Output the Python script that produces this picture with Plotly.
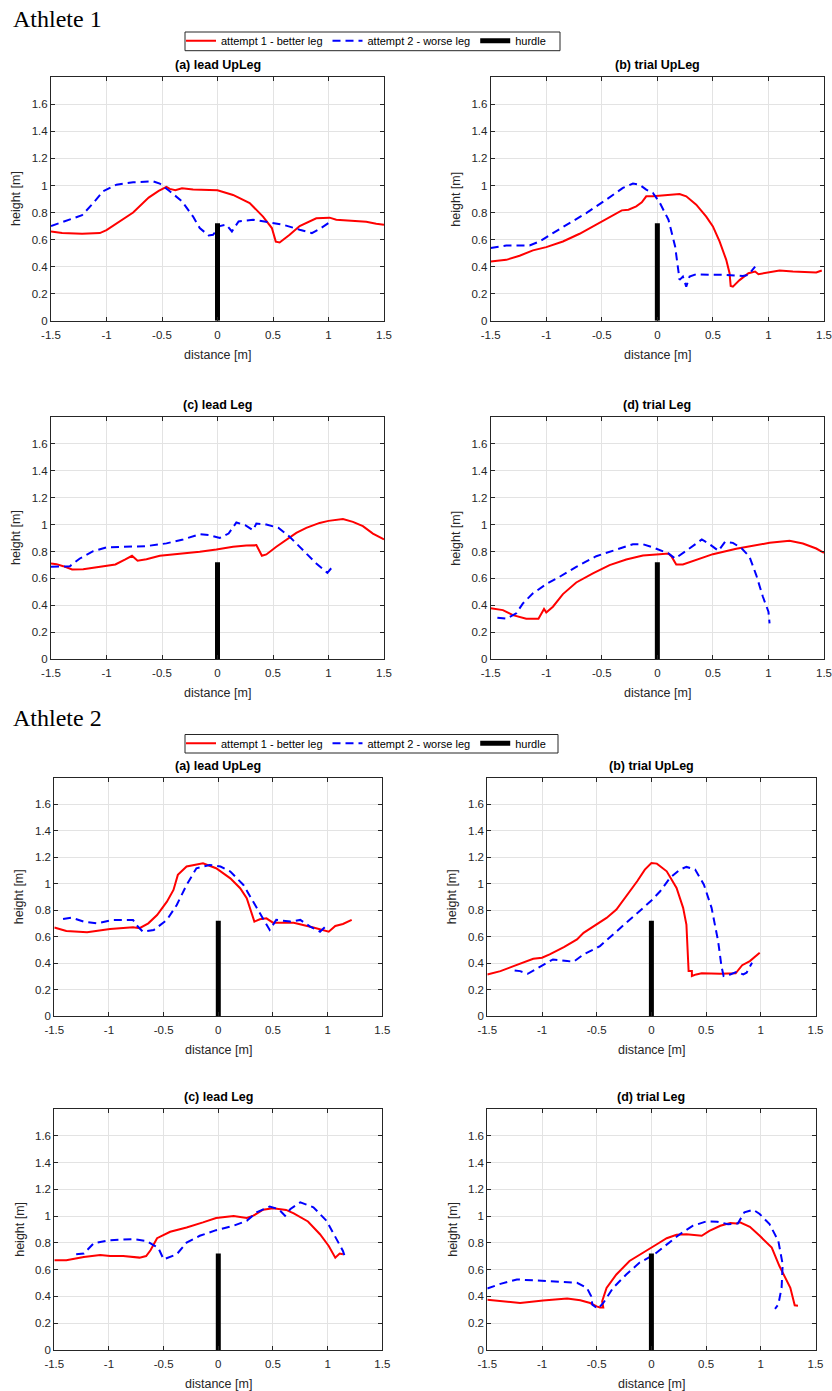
import plotly.graph_objects as go

# ---------------- data: Athlete 1 ----------------
a1_lead_upleg_att1_x = [-1.5, -1.40, -1.22, -1.06, -1.0, -0.91, -0.76, -0.62, -0.53, -0.46, -0.43, -0.38, -0.32, -0.22, 0.0, 0.14, 0.29, 0.41, 0.49, 0.525, 0.56, 0.65, 0.74, 0.89, 1.01, 1.07, 1.19, 1.34, 1.43, 1.5]
a1_lead_upleg_att1_y = [0.66, 0.648, 0.643, 0.648, 0.67, 0.72, 0.80, 0.91, 0.96, 0.99, 0.975, 0.965, 0.98, 0.97, 0.965, 0.93, 0.87, 0.77, 0.685, 0.585, 0.578, 0.635, 0.70, 0.757, 0.762, 0.747, 0.742, 0.732, 0.717, 0.71]
a1_lead_upleg_att2_x = [-1.5, -1.36, -1.22, -1.12, -1.03, -0.91, -0.76, -0.58, -0.52, -0.43, -0.32, -0.22, -0.16, -0.08, -0.04, 0.02, 0.08, 0.13, 0.19, 0.32, 0.44, 0.59, 0.74, 0.85, 0.92, 1.0]
a1_lead_upleg_att2_y = [0.70, 0.74, 0.78, 0.87, 0.957, 1.006, 1.024, 1.03, 1.014, 0.957, 0.883, 0.77, 0.685, 0.63, 0.635, 0.70, 0.71, 0.66, 0.734, 0.747, 0.73, 0.71, 0.673, 0.648, 0.678, 0.722]

a1_trial_upleg_att1_x = [-1.5, -1.36, -1.24, -1.12, -1.0, -0.85, -0.70, -0.52, -0.40, -0.32, -0.26, -0.19, -0.14, -0.10, -0.04, 0.02, 0.14, 0.20, 0.26, 0.35, 0.44, 0.50, 0.56, 0.62, 0.65, 0.66, 0.68, 0.74, 0.82, 0.88, 0.91, 0.98, 1.10, 1.22, 1.37, 1.43, 1.48]
a1_trial_upleg_att1_y = [0.438, 0.45, 0.48, 0.52, 0.544, 0.586, 0.643, 0.722, 0.776, 0.816, 0.821, 0.846, 0.875, 0.92, 0.92, 0.925, 0.932, 0.937, 0.92, 0.858, 0.77, 0.697, 0.586, 0.45, 0.351, 0.257, 0.252, 0.30, 0.351, 0.364, 0.344, 0.356, 0.371, 0.364, 0.359, 0.356, 0.371]
a1_trial_upleg_att2_x = [-1.5, -1.36, -1.15, -1.06, -0.94, -0.79, -0.64, -0.46, -0.31, -0.22, -0.16, -0.10, -0.04, 0.02, 0.10, 0.16, 0.20, 0.23, 0.26, 0.29, 0.35, 0.47, 0.62, 0.77, 0.82, 0.88]
a1_trial_upleg_att2_y = [0.537, 0.556, 0.556, 0.586, 0.648, 0.722, 0.796, 0.895, 0.982, 1.014, 1.006, 0.969, 0.945, 0.875, 0.747, 0.549, 0.302, 0.326, 0.252, 0.326, 0.344, 0.339, 0.339, 0.331, 0.339, 0.40]

a1_lead_leg_att1_x = [-1.5, -1.45, -1.39, -1.31, -1.21, -1.12, -1.03, -0.92, -0.83, -0.77, -0.72, -0.64, -0.52, -0.31, -0.16, -0.01, 0.14, 0.26, 0.35, 0.40, 0.44, 0.53, 0.62, 0.71, 0.80, 0.92, 1.0, 1.13, 1.22, 1.31, 1.40, 1.5]
a1_lead_leg_att1_y = [0.711, 0.706, 0.691, 0.667, 0.669, 0.681, 0.691, 0.704, 0.741, 0.768, 0.731, 0.743, 0.768, 0.785, 0.798, 0.815, 0.835, 0.844, 0.847, 0.768, 0.778, 0.835, 0.889, 0.938, 0.975, 1.012, 1.027, 1.04, 1.02, 0.988, 0.933, 0.889]
a1_lead_leg_att2_x = [-1.5, -1.42, -1.33, -1.24, -1.12, -1.0, -0.82, -0.64, -0.46, -0.31, -0.16, -0.07, 0.02, 0.10, 0.17, 0.25, 0.32, 0.35, 0.44, 0.55, 0.65, 0.77, 0.89, 0.99, 1.04]
a1_lead_leg_att2_y = [0.686, 0.686, 0.691, 0.748, 0.802, 0.83, 0.835, 0.84, 0.86, 0.889, 0.928, 0.921, 0.90, 0.933, 1.015, 0.995, 0.958, 1.007, 1.0, 0.975, 0.909, 0.81, 0.711, 0.642, 0.691]

a1_trial_leg_att1_x = [-1.5, -1.39, -1.30, -1.18, -1.07, -1.04, -1.02, -1.0, -0.94, -0.85, -0.73, -0.58, -0.43, -0.28, -0.13, 0.02, 0.10, 0.13, 0.17, 0.23, 0.35, 0.50, 0.71, 0.86, 1.01, 1.19, 1.31, 1.43, 1.5]
a1_trial_leg_att1_y = [0.378, 0.365, 0.328, 0.301, 0.301, 0.346, 0.373, 0.348, 0.39, 0.484, 0.57, 0.637, 0.699, 0.741, 0.77, 0.78, 0.785, 0.76, 0.704, 0.704, 0.736, 0.78, 0.82, 0.842, 0.864, 0.879, 0.859, 0.822, 0.79]
a1_trial_leg_att2_x = [-1.44, -1.36, -1.27, -1.21, -1.12, -1.0, -0.88, -0.73, -0.55, -0.37, -0.22, -0.13, -0.04, 0.10, 0.16, 0.26, 0.40, 0.47, 0.55, 0.61, 0.68, 0.76, 0.83, 0.89, 0.95, 1.0, 1.01]
a1_trial_leg_att2_y = [0.309, 0.301, 0.341, 0.415, 0.489, 0.558, 0.612, 0.686, 0.765, 0.815, 0.854, 0.854, 0.83, 0.785, 0.748, 0.805, 0.889, 0.854, 0.805, 0.872, 0.864, 0.822, 0.76, 0.625, 0.464, 0.353, 0.267]

# ---------------- data: Athlete 2 ----------------
a2_lead_upleg_att1_x = [-1.5, -1.39, -1.20, -0.99, -0.78, -0.72, -0.64, -0.56, -0.47, -0.41, -0.37, -0.29, -0.14, -0.02, 0.11, 0.20, 0.26, 0.33, 0.38, 0.44, 0.50, 0.69, 0.87, 1.01, 1.07, 1.14, 1.22]
a2_lead_upleg_att1_y = [0.668, 0.642, 0.632, 0.658, 0.67, 0.663, 0.70, 0.763, 0.864, 0.952, 1.066, 1.129, 1.154, 1.116, 1.04, 0.965, 0.889, 0.713, 0.731, 0.738, 0.705, 0.705, 0.668, 0.637, 0.68, 0.695, 0.726]
a2_lead_upleg_att2_x = [-1.42, -1.34, -1.23, -1.11, -0.96, -0.78, -0.75, -0.69, -0.59, -0.47, -0.38, -0.29, -0.20, -0.08, 0.02, 0.11, 0.23, 0.34, 0.41, 0.47, 0.53, 0.66, 0.75, 0.84, 0.93, 0.98]
a2_lead_upleg_att2_y = [0.733, 0.743, 0.713, 0.70, 0.726, 0.726, 0.688, 0.637, 0.65, 0.726, 0.839, 0.99, 1.116, 1.141, 1.129, 1.091, 0.99, 0.839, 0.738, 0.65, 0.726, 0.713, 0.726, 0.675, 0.637, 0.675]

a2_trial_upleg_att1_x = [-1.5, -1.38, -1.26, -1.17, -1.08, -1.0, -0.93, -0.80, -0.68, -0.62, -0.50, -0.41, -0.32, -0.23, -0.13, -0.06, 0.0, 0.05, 0.14, 0.23, 0.29, 0.32, 0.335, 0.34, 0.37, 0.37, 0.41, 0.46, 0.63, 0.77, 0.83, 0.90, 0.99]
a2_trial_upleg_att1_y = [0.314, 0.339, 0.377, 0.402, 0.432, 0.44, 0.465, 0.52, 0.578, 0.628, 0.691, 0.741, 0.804, 0.905, 1.018, 1.106, 1.156, 1.151, 1.093, 0.967, 0.817, 0.691, 0.49, 0.339, 0.339, 0.302, 0.314, 0.322, 0.319, 0.322, 0.384, 0.415, 0.477]
a2_trial_upleg_att2_x = [-1.25, -1.20, -1.13, -1.03, -0.90, -0.77, -0.71, -0.62, -0.47, -0.35, -0.23, -0.10, 0.0, 0.08, 0.17, 0.26, 0.32, 0.40, 0.48, 0.55, 0.61, 0.64, 0.66, 0.72, 0.78, 0.84, 0.87, 0.92]
a2_trial_upleg_att2_y = [0.344, 0.339, 0.319, 0.364, 0.427, 0.415, 0.41, 0.465, 0.528, 0.616, 0.704, 0.797, 0.872, 0.942, 1.043, 1.106, 1.126, 1.106, 0.992, 0.817, 0.565, 0.377, 0.302, 0.314, 0.334, 0.314, 0.327, 0.402]

a2_lead_leg_att1_x = [-1.5, -1.39, -1.23, -1.08, -0.99, -0.87, -0.72, -0.66, -0.62, -0.56, -0.44, -0.29, -0.14, -0.02, 0.14, 0.26, 0.32, 0.41, 0.50, 0.62, 0.69, 0.82, 0.93, 1.01, 1.07, 1.11, 1.14]
a2_lead_leg_att1_y = [0.67, 0.67, 0.695, 0.71, 0.702, 0.702, 0.69, 0.702, 0.745, 0.835, 0.883, 0.915, 0.953, 0.986, 1.0, 0.986, 1.003, 1.048, 1.058, 1.046, 1.02, 0.96, 0.865, 0.777, 0.69, 0.72, 0.715]
a2_lead_leg_att2_x = [-1.30, -1.23, -1.14, -0.99, -0.78, -0.66, -0.59, -0.55, -0.50, -0.38, -0.29, -0.17, -0.02, 0.14, 0.26, 0.35, 0.47, 0.55, 0.61, 0.66, 0.75, 0.87, 0.99, 1.08, 1.14, 1.16]
a2_lead_leg_att2_y = [0.715, 0.72, 0.797, 0.82, 0.828, 0.815, 0.782, 0.765, 0.677, 0.715, 0.802, 0.853, 0.895, 0.928, 0.965, 1.028, 1.071, 1.053, 1.003, 1.053, 1.103, 1.066, 0.965, 0.835, 0.74, 0.69]

a2_trial_leg_att1_x = [-1.5, -1.38, -1.20, -0.99, -0.77, -0.65, -0.56, -0.50, -0.47, -0.44, -0.45, -0.41, -0.32, -0.20, -0.07, 0.05, 0.14, 0.23, 0.32, 0.41, 0.46, 0.53, 0.63, 0.72, 0.78, 0.81, 0.90, 0.99, 1.10, 1.17, 1.27, 1.31, 1.34]
a2_trial_leg_att1_y = [0.376, 0.364, 0.351, 0.369, 0.384, 0.371, 0.351, 0.326, 0.318, 0.318, 0.364, 0.464, 0.564, 0.665, 0.727, 0.79, 0.835, 0.86, 0.865, 0.86, 0.853, 0.89, 0.928, 0.948, 0.945, 0.953, 0.92, 0.853, 0.765, 0.627, 0.464, 0.334, 0.331]
a2_trial_leg_att2_x = [-1.5, -1.38, -1.23, -1.02, -0.84, -0.68, -0.59, -0.55, -0.54, -0.49, -0.44, -0.35, -0.23, -0.11, 0.02, 0.14, 0.26, 0.38, 0.50, 0.60, 0.70, 0.79, 0.85, 0.93, 0.99, 1.08, 1.16, 1.20, 1.19, 1.16, 1.13]
a2_trial_leg_att2_y = [0.459, 0.494, 0.527, 0.519, 0.507, 0.502, 0.464, 0.401, 0.339, 0.308, 0.351, 0.464, 0.564, 0.652, 0.71, 0.79, 0.865, 0.928, 0.96, 0.958, 0.94, 0.945, 1.028, 1.048, 1.016, 0.94, 0.815, 0.64, 0.464, 0.339, 0.308]

# hurdle position and height
hurdle_x = 0.0
hurdle_height = 0.72

# axis ticks
x_ticks = [-1.5, -1.0, -0.5, 0.0, 0.5, 1.0, 1.5]
x_tick_labels = ["-1.5", "-1", "-0.5", "0", "0.5", "1", "1.5"]
y_ticks = [0.0, 0.2, 0.4, 0.6, 0.8, 1.0, 1.2, 1.4, 1.6]
y_tick_labels = ["0", "0.2", "0.4", "0.6", "0.8", "1", "1.2", "1.4", "1.6"]

panel_titles = ["(a) lead UpLeg", "(b) trial UpLeg", "(c) lead Leg", "(d) trial Leg"]
series_names = ["attempt 1 - better leg", "attempt 2 - worse leg", "hurdle"]
athlete_labels = ["Athlete 1", "Athlete 2"]

athlete_panels = [
    [
        (a1_lead_upleg_att1_x, a1_lead_upleg_att1_y, a1_lead_upleg_att2_x, a1_lead_upleg_att2_y),
        (a1_trial_upleg_att1_x, a1_trial_upleg_att1_y, a1_trial_upleg_att2_x, a1_trial_upleg_att2_y),
        (a1_lead_leg_att1_x, a1_lead_leg_att1_y, a1_lead_leg_att2_x, a1_lead_leg_att2_y),
        (a1_trial_leg_att1_x, a1_trial_leg_att1_y, a1_trial_leg_att2_x, a1_trial_leg_att2_y),
    ],
    [
        (a2_lead_upleg_att1_x, a2_lead_upleg_att1_y, a2_lead_upleg_att2_x, a2_lead_upleg_att2_y),
        (a2_trial_upleg_att1_x, a2_trial_upleg_att1_y, a2_trial_upleg_att2_x, a2_trial_upleg_att2_y),
        (a2_lead_leg_att1_x, a2_lead_leg_att1_y, a2_lead_leg_att2_x, a2_lead_leg_att2_y),
        (a2_trial_leg_att1_x, a2_trial_leg_att1_y, a2_trial_leg_att2_x, a2_trial_leg_att2_y),
    ],
]

# ---------------- page geometry (pixels) ----------------
W, H = 832, 1391
# plot boxes: (left, right, top, bottom) per athlete, per panel
boxes = [
    [(51, 384, 77.3, 320.7), (490.7, 824, 77.3, 320.7),
     (51, 384, 416.7, 659.3), (490.7, 824, 416.7, 659.3)],
    [(54.3, 382.3, 777.7, 1016), (487.3, 815.5, 777.7, 1016),
     (54.3, 382.3, 1109, 1350), (487.3, 815.5, 1109, 1350)],
]
# legend frame: (left, right, top, bottom)
legend_frames = [(185, 560, 32, 50.7), (185, 558, 734.5, 753)]
athlete_label_y = [18.5, 718]

AX_COLOR = "#262626"
GRID_COLOR = "#e3e3e3"
FONT = "Liberation Sans, Arial, sans-serif"
RED = "#ff0000"
BLUE = "#0000ff"

fig = go.Figure()
layout = dict(
    width=W, height=H, margin=dict(l=0, r=0, t=0, b=0, autoexpand=False),
    paper_bgcolor="white", plot_bgcolor="white",
    font=dict(family=FONT, color=AX_COLOR),
    annotations=[], shapes=[],
)

k = 0
for ai, panels in enumerate(athlete_panels):
    legend_id = "legend" if ai == 0 else "legend2"
    for pi, (x1, y1, x2, y2) in enumerate(panels):
        k += 1
        xa = "x" if k == 1 else f"x{k}"
        ya = "y" if k == 1 else f"y{k}"
        left, right, top, bottom = boxes[ai][pi]
        show = pi == 0
        fig.add_trace(go.Scatter(
            x=x1, y=y1, mode="lines", name=series_names[0],
            line=dict(color=RED, width=2), xaxis=xa, yaxis=ya,
            legend=legend_id, showlegend=show))
        fig.add_trace(go.Scatter(
            x=x2, y=y2, mode="lines", name=series_names[1],
            line=dict(color=BLUE, width=2, dash="8px,5px"), xaxis=xa, yaxis=ya,
            legend=legend_id, showlegend=show))
        fig.add_trace(go.Scatter(
            x=[hurdle_x, hurdle_x], y=[0, hurdle_height], mode="lines",
            name=series_names[2], line=dict(color="black", width=5),
            xaxis=xa, yaxis=ya, legend=legend_id, showlegend=show))

        common = dict(
            showline=True, linecolor=AX_COLOR, linewidth=1, mirror="ticks",
            ticks="inside", ticklen=4, tickcolor=AX_COLOR,
            showgrid=True, gridcolor=GRID_COLOR, gridwidth=1,
            zeroline=False, tickfont=dict(size=11.5, color=AX_COLOR, family=FONT),
            fixedrange=True, automargin=False,
        )
        layout["xaxis" if k == 1 else f"xaxis{k}"] = dict(
            common, domain=[left / W, right / W], range=[-1.5, 1.5],
            tickvals=x_ticks, ticktext=x_tick_labels, anchor=ya,
            ticklabelstandoff=3)
        layout["yaxis" if k == 1 else f"yaxis{k}"] = dict(
            common, domain=[1 - bottom / H, 1 - top / H], range=[0, 1.8],
            tickvals=y_ticks, ticktext=y_tick_labels, anchor=xa)

        cx = (left + right) / 2 / W
        layout["annotations"].append(dict(
            text=f"<b>{panel_titles[pi]}</b>", xref="paper", yref="paper",
            x=cx, y=1 - (top - 3) / H, xanchor="center", yanchor="bottom",
            showarrow=False, font=dict(size=12.5, color="black", family=FONT)))
        layout["annotations"].append(dict(
            text="distance [m]", xref="paper", yref="paper",
            x=cx, y=1 - (bottom + 34) / H, xanchor="center", yanchor="middle",
            showarrow=False, font=dict(size=12.5, color=AX_COLOR, family=FONT)))
        layout["annotations"].append(dict(
            text="height [m]", xref="paper", yref="paper", textangle=-90,
            x=(left - 35) / W, y=1 - (top + bottom) / 2 / H,
            xanchor="center", yanchor="middle",
            showarrow=False, font=dict(size=12.5, color=AX_COLOR, family=FONT)))

    layout["annotations"].append(dict(
        text=athlete_labels[ai], xref="paper", yref="paper",
        x=11 / W, y=1 - athlete_label_y[ai] / H, xanchor="left", yanchor="middle",
        showarrow=False, font=dict(size=24, color="black",
                                   family="Liberation Serif, Times New Roman, serif")))

    fl, fr, ft, fb = legend_frames[ai]
    layout["shapes"].append(dict(
        type="rect", xref="paper", yref="paper",
        x0=fl / W, x1=fr / W, y0=1 - fb / H, y1=1 - ft / H,
        line=dict(color=AX_COLOR, width=1), fillcolor="white", layer="above"))
    layout[legend_id] = dict(
        orientation="h", x=(fl - 4) / W, y=1 - ((ft + fb) / 2 - 15) / H,
        xanchor="left", yanchor="top", bgcolor="rgba(0,0,0,0)",
        borderwidth=0,
        font=dict(size=11, color="black", family=FONT),
        tracegroupgap=0, itemwidth=30,
    )

fig.update_layout(**layout)
fig.write_html("out.html")
